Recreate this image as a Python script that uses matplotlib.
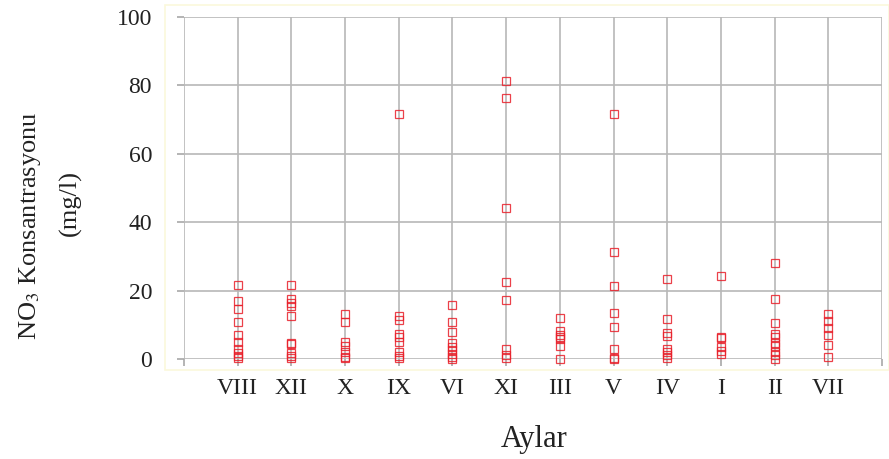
import matplotlib
matplotlib.use('Agg')
import matplotlib.pyplot as plt
from matplotlib.patches import Rectangle

# region Data
months = ['VIII', 'XII', 'X', 'IX', 'VI', 'XI', 'III', 'V', 'IV', 'I', 'II', 'VII']
no3 = {
    'VIII': [21.7, 17.0, 14.6, 10.9, 7.0, 5.1, 2.8, 1.8, 0.9, 0.2],
    'XII': [21.7, 17.4, 16.3, 15.6, 12.7, 4.8, 4.5, 1.8, 0.9, 0.2],
    'X': [13.2, 10.9, 5.1, 3.8, 2.1, 0.7, 0.2],
    'IX': [71.6, 12.6, 11.4, 7.3, 6.5, 5.1, 2.1, 0.9, 0.2],
    'VI': [15.9, 10.9, 7.9, 4.8, 3.6, 2.6, 1.5, 0.5, 0.1],
    'XI': [81.3, 76.3, 44.2, 22.5, 17.3, 2.8, 1.2, 0.2],
    'III': [12.1, 8.2, 7.0, 6.5, 5.8, 3.8, 0.0],
    'V': [71.6, 31.3, 21.2, 13.5, 9.4, 2.9, 0.2, 0.0],
    'IV': [23.5, 11.6, 7.5, 6.7, 2.9, 2.0, 1.2, 0.2],
    'I': [24.4, 6.5, 6.0, 3.6, 2.4, 1.5],
    'II': [28.0, 17.4, 10.5, 7.2, 6.3, 4.6, 3.9, 2.1, 1.2, 0.0],
    'VII': [13.2, 11.1, 9.2, 7.0, 4.1, 0.6],
}
y_ticks = [0, 20, 40, 60, 80, 100]
# endregion

plt.rcParams['font.family'] = ['Liberation Serif', 'DejaVu Serif']
plt.rcParams['mathtext.fontset'] = 'stix'

fig = plt.figure(figsize=(8.89, 4.59), dpi=100)
ax = fig.add_axes([184 / 889, 1 - 359 / 459, 698 / 889, 342 / 459])

# faint outer frame of the plot area
fig.patches.append(Rectangle((165 / 889, 1 - 370 / 459), 724 / 889, 365 / 459,
                             transform=fig.transFigure, fill=False,
                             edgecolor='#fbf8dc', lw=1.2, zorder=0))

for i, m in enumerate(months):
    vals = no3[m]
    ax.plot([i + 1] * len(vals), vals, linestyle='none', marker='s',
            markersize=5.8, markerfacecolor='none', markeredgecolor='#e8202a',
            markeredgewidth=0.9, alpha=0.85, clip_on=False, zorder=3)

ax.set_xlim(0, 13)
ax.set_ylim(0, 100)
ax.set_xticks(range(14))
ax.set_xticklabels([''] + months + [''])
ax.set_yticks(y_ticks)
ax.grid(True, color='#b8b8b8', linewidth=1.2)
ax.set_axisbelow(True)
for s in ax.spines.values():
    s.set_visible(False)
ax.tick_params(axis='both', colors='#a8a8a8', length=5, width=1.2,
               labelcolor='#222222', labelsize=17)
ax.tick_params(axis='x', pad=9)
ax.tick_params(axis='y', pad=18)

fig.text(534 / 889, 1 - 440 / 459, 'Aylar', ha='center', va='center',
         fontsize=22, color='#222222')
fig.text(30 / 889, 1 - 226 / 459, 'NO$_3$ Konsantrasyonu', rotation=90,
         ha='center', va='center', fontsize=19, color='#222222')
fig.text(70 / 889, 1 - 203 / 459, '(mg/l)', rotation=90,
         ha='center', va='center', fontsize=19, color='#222222')

fig.savefig('out.png', dpi=100)
